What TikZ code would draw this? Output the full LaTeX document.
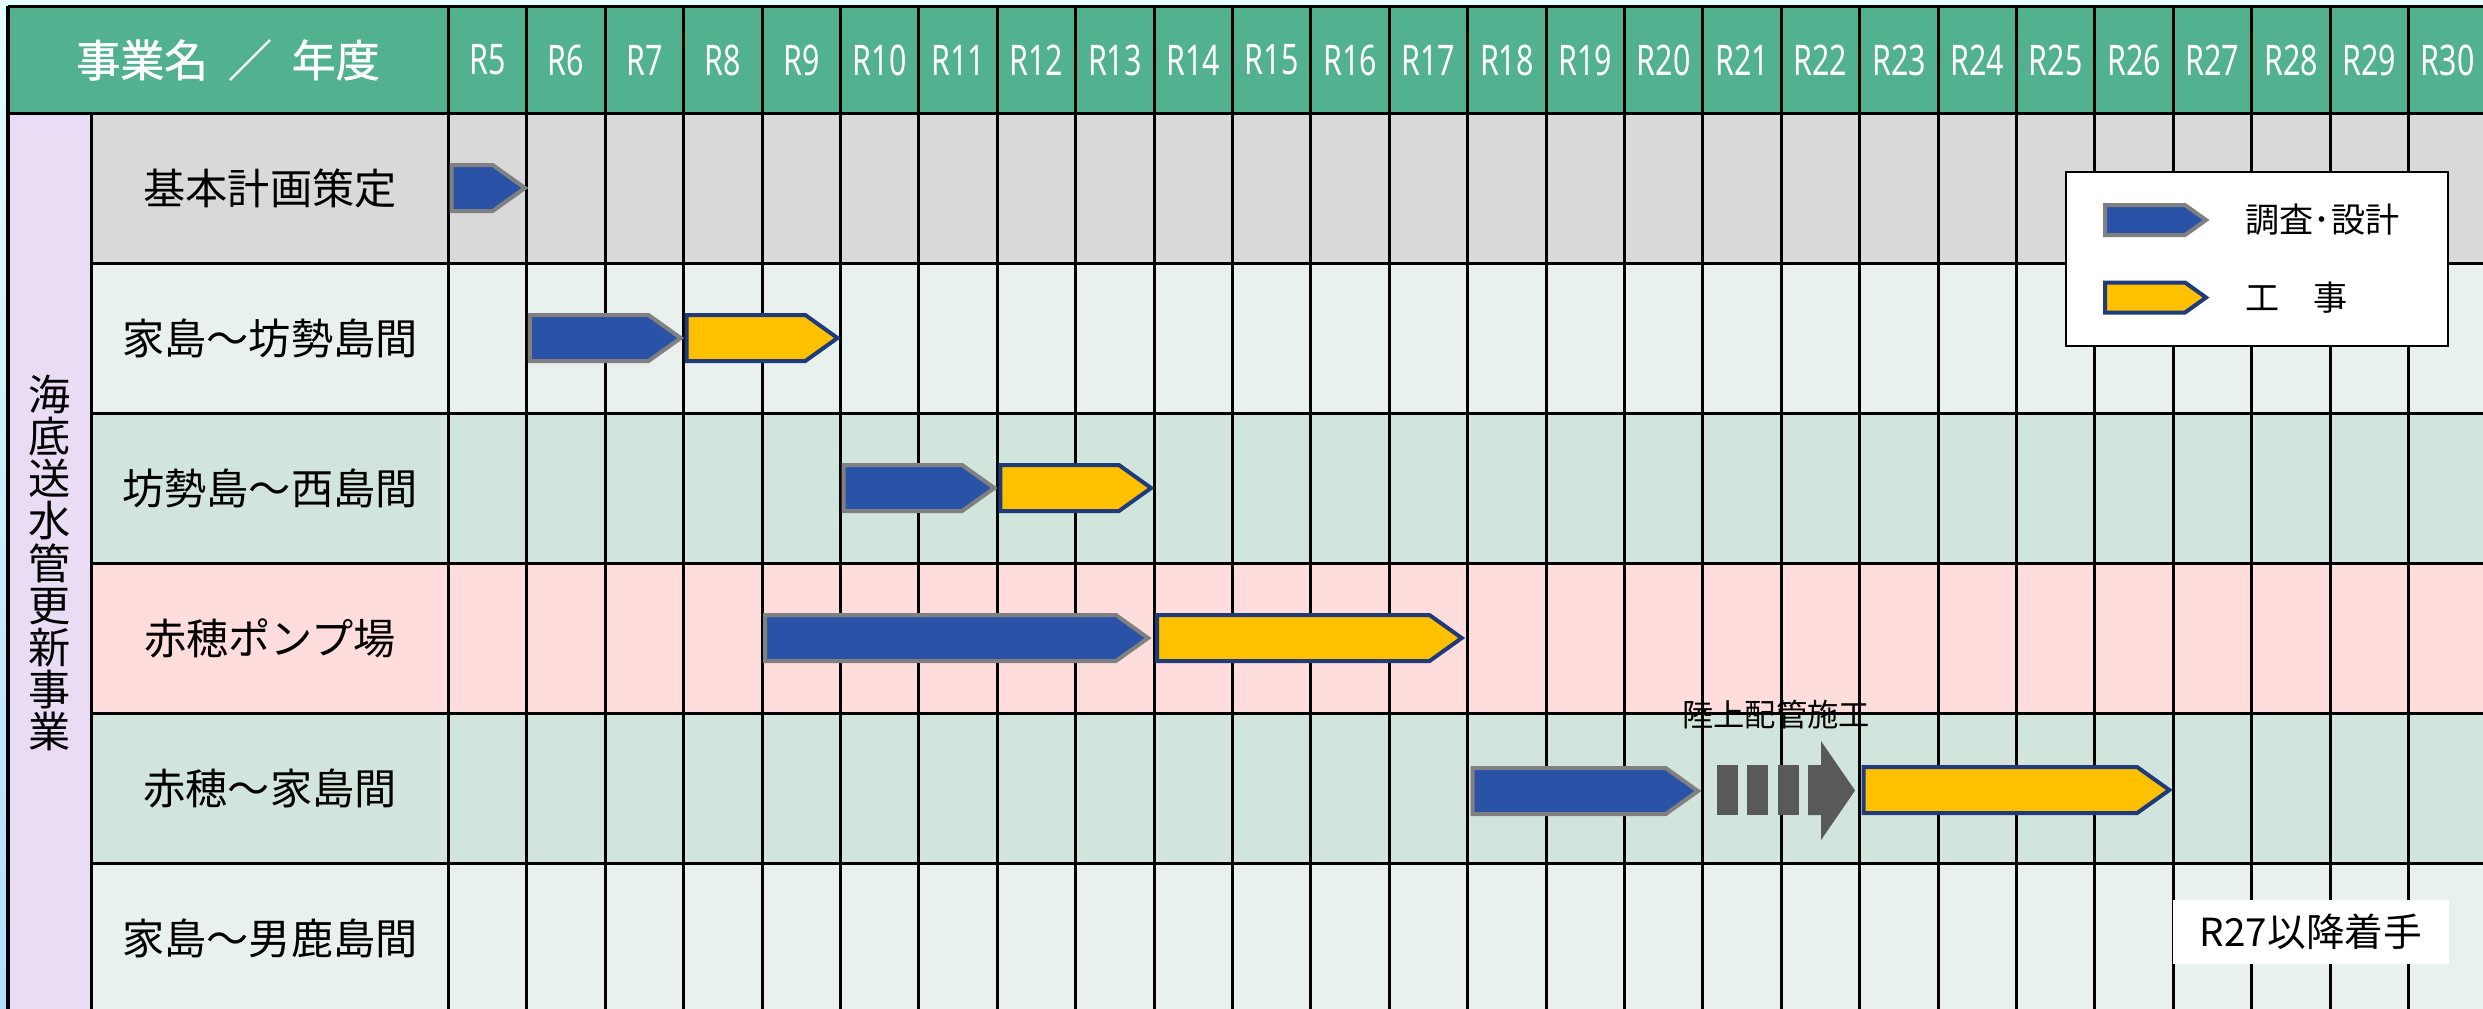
\documentclass[tikz,border=0pt]{standalone}
\usepackage{fontspec}
\newfontfamily\jp{Noto Sans CJK JP}
\newfontfamily\jphead{Noto Sans CJK JP}[FakeBold=1.2]
\newfontfamily\rfont{Noto Sans}
\definecolor{headgreen}{HTML}{52B18F}
\definecolor{rowgray}{HTML}{D9D9D9}
\definecolor{rowlight}{HTML}{E8F1EE}
\definecolor{rowmid}{HTML}{D1E5DC}
\definecolor{rowpink}{HTML}{FFDDDD}
\definecolor{sidepurple}{HTML}{EBDCF5}
\definecolor{surveyblue}{HTML}{2A52A6}
\definecolor{worksyellow}{HTML}{FFC000}
\definecolor{worksedge}{HTML}{1F3B7B}
\definecolor{landgray}{HTML}{595959}
% left edge of year column k (k=0 is R5)
\newcommand\cx[1]{448.5+78.4*#1}
% arrow bar: style, x1, x2, y centre, half height
\newcommand\gbar[5]{\draw[#1] (#2,#4-#5) -- ({#3-1.4*#5},#4-#5) -- (#3,#4) -- ({#3-1.4*#5},#4+#5) -- (#2,#4+#5) -- cycle;}
\begin{document}
\begin{tikzpicture}[x=0.01cm, y=-0.01cm,
    grid/.style={line width=0.03cm, black},
    survey/.style={fill=surveyblue, draw=gray, line width=0.04cm, line join=miter},
    works/.style={fill=worksyellow, draw=worksedge, line width=0.04cm, line join=miter},
    rlab/.style={text=white, font=\rfont\bfseries\fontsize{12}{12}\selectfont, inner sep=0pt},
    rowlab/.style={font=\jp\fontsize{12}{12}\selectfont, inner sep=0pt}]
\useasboundingbox (0,0) rectangle (2483,1008);
\fill[top color=blue!8!cyan!10, bottom color=blue!45!cyan!30] (0,0) rectangle (2483,1008);

% header and rows
\fill[headgreen] (8,6) rectangle (2495,113);
\fill[sidepurple] (8,113) rectangle (91,1015);
\foreach \r/\lab/\col [count=\i] in {plan/基本計画策定/rowgray, iebo/家島～坊勢島間/rowlight,
    bonishi/坊勢島～西島間/rowmid, pump/赤穂ポンプ場/rowpink,
    akoie/赤穂～家島間/rowmid, ieodo/家島～男鹿島間/rowlight} {
  \fill[\col] (91,{113+150*(\i-1)}) rectangle (2495,{113+150*\i});
  \node[rowlab] (\r) at (270,{188+150*(\i-1)}) {\lab};
}
\node[text=white, font=\jphead\fontsize{12.5}{13}\selectfont] (head) at (228,60)
  {事業名\hspace{0.1cm} ／\hspace{0.1cm} 年度};
\foreach \k in {0,...,25} {
  \pgfmathtruncatemacro\yr{\k+5}
  \node[rlab] (r\yr) at ({\cx{\k}+39.2},60) {\scalebox{0.72}[1]{R\yr}};
}
\node[align=center, font=\jp\fontsize{12}{12}\selectfont, inner sep=0pt] (title) at (50,563)
  {海\\底\\送\\水\\管\\更\\新\\事\\業};

% grid lines
\foreach \k in {0,...,26}
  \draw[grid] (\cx{\k},6) -- (\cx{\k},1015);
\draw[grid] (8,6) -- (2495,6);
\draw[grid] (8,113) -- (2495,113);
\foreach \y in {263,413,563,713,863}
  \draw[grid] (91,\y) -- (2495,\y);
\draw[grid] (8,6) -- (8,1015);
\draw[grid] (91,113) -- (91,1015);

% bars
\gbar{survey}{\cx{0}+3}{\cx{1}-2}{188}{23}
\gbar{survey}{\cx{1}+3}{\cx{3}-3}{338}{23}
\gbar{works}{\cx{3}+3}{\cx{5}-3}{338}{23}
\gbar{survey}{\cx{5}+3}{\cx{7}-3}{488}{23}
\gbar{works}{\cx{7}+3}{\cx{9}-3}{488}{23}
\gbar{survey}{\cx{4}+3}{\cx{9}-6}{638}{23}
\gbar{works}{\cx{9}+3}{\cx{13}-6}{638}{23}
\gbar{survey}{\cx{13}+5}{\cx{16}-5}{791}{23}
\gbar{works}{\cx{18}+4}{\cx{22}-4}{790}{23}

% land piping
\foreach \x in {1717,1747,1777.5}
  \fill[landgray] (\x,765) rectangle +(21,50);
\fill[landgray] (1808,765) -- (1821,765) -- (1821,741) -- (1855,790.5) -- (1821,840) -- (1821,815) -- (1808,815) -- cycle;
\node[font=\jp\fontsize{8.9}{9}\selectfont, inner sep=0pt] (land) at (1776,715) {陸上配管施工};

% later start
\node[fill=white, minimum width=2.76cm, minimum height=0.64cm, inner sep=0pt,
  font=\jp\fontsize{11}{11}\selectfont] (later) at (2311,932) {R27以降着手};

% legend
\draw[fill=white, line width=0.015cm] (2066,172) rectangle (2448,346);
\gbar{survey}{2105}{2206}{220}{15}
\gbar{works}{2105}{2206}{297.5}{15}
\node[anchor=west, inner sep=0pt, font=\jp\fontsize{9.7}{10}\selectfont] (legs) at (2245,220) {調査･設計};
\node[anchor=west, inner sep=0pt, font=\jp\fontsize{9.7}{10}\selectfont] (legw) at (2245,298) {工　事};
\end{tikzpicture}
\end{document}
